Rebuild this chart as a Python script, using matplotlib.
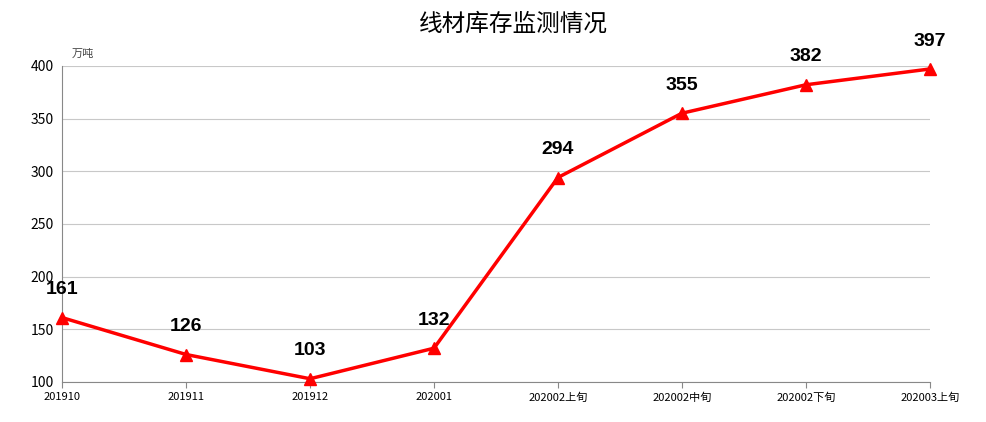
import matplotlib
matplotlib.use("Agg")
import matplotlib.pyplot as plt

plt.rcParams['font.family'] = ['Noto Sans CJK SC', 'DejaVu Sans']

periods = ["201910", "201911", "201912", "202001", "202002", "202002", "202002", "202003"]
suffixes = ["", "", "", "", "上旬", "中旬", "下旬", "上旬"]
stock = [161, 126, 103, 132, 294, 355, 382, 397]

fig = plt.figure(figsize=(9.87, 4.22), dpi=100)
ax = fig.add_axes([0.063, 0.095, 0.879, 0.749])

x = list(range(len(stock)))
ax.plot(x, stock, color="red", lw=2.5, marker="^", markersize=9, clip_on=False, zorder=3)
for xi, v in zip(x, stock):
    ax.annotate(str(v), (xi, v), xytext=(0, 14), textcoords="offset points",
                ha="center", va="bottom", fontsize=14, fontweight="bold",
                family=['Liberation Sans', 'DejaVu Sans'])

ax.set_xlim(0, 7)
ax.set_ylim(100, 400)
ax.set_yticks(range(100, 401, 50))
ax.yaxis.grid(True, color="#c8c8c8", lw=0.8)
ax.set_axisbelow(True)
for s in ["top", "right"]:
    ax.spines[s].set_visible(False)
ax.spines["left"].set_color("#888888")
ax.spines["bottom"].set_color("#888888")
ax.tick_params(axis="y", labelsize=10, length=0, pad=6)
ax.tick_params(axis="x", length=4, color="#888888", labelsize=8)
ax.set_xticks(x)
ax.set_xticklabels([p + s for p, s in zip(periods, suffixes)])

fig.text(0.073, 0.865, "万吨", fontsize=8, color="#444444")
fig.suptitle("线材库存监测情况", x=0.52, y=0.97, fontsize=17)

fig.savefig("out.png", dpi=100)
